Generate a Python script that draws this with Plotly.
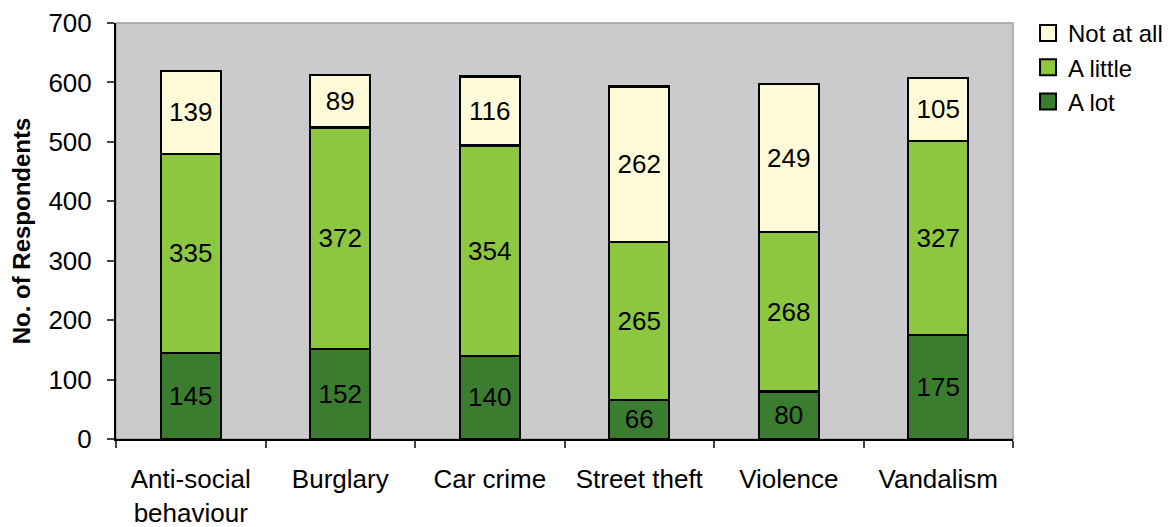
import plotly.graph_objects as go

categories = ["Anti-social<br>behaviour", "Burglary", "Car crime", "Street theft", "Violence", "Vandalism"]
a_lot = [145, 152, 140, 66, 80, 175]
a_little = [335, 372, 354, 265, 268, 327]
not_at_all = [139, 89, 116, 262, 249, 105]

series = [
    ("A lot", a_lot, "#3B7D2F"),
    ("A little", a_little, "#8DC63F"),
    ("Not at all", not_at_all, "#FEFAD8"),
]

FONT = "Liberation Sans, Arial, sans-serif"

fig = go.Figure()
for name, vals, color in series:
    fig.add_trace(go.Bar(
        x=categories, y=vals, name=name, showlegend=False,
        marker=dict(color=color, line=dict(color="black", width=2.2)),
        text=[str(v) for v in vals], textposition="inside",
        insidetextanchor="middle",
        textfont=dict(family=FONT, size=26, color="black"),
        constraintext="none",
    ))
# legend entries with larger square swatches
for name, vals, color in series:
    fig.add_trace(go.Scatter(
        x=[None], y=[None], mode="markers", name=name,
        marker=dict(symbol="square", size=19, color=color, line=dict(color="black", width=2)),
    ))

fig.update_layout(
    barmode="stack", bargap=0.6,
    width=1173, height=527,
    margin=dict(l=108, r=168, t=15, b=96),
    plot_bgcolor="#CBCBCB", paper_bgcolor="white",
    font=dict(family=FONT, size=26, color="black"),
    legend=dict(xref="container", yref="container", x=0.8696, y=0.9943,
                xanchor="left", yanchor="top",
                traceorder="reversed", font=dict(size=24),
                itemwidth=30, tracegroupgap=0),
    uniformtext=dict(minsize=26, mode="show"),
    shapes=[dict(type="rect", xref="paper", yref="paper", x0=0, x1=1, y0=0, y1=1,
                 line=dict(color="#A0A0A0", width=1.5), layer="below")],
)
fig.update_yaxes(range=[0, 700], dtick=100, ticks="outside", ticklen=7, tickwidth=2,
                 showline=True, linecolor="black", linewidth=2, showgrid=False,
                 ticklabelstandoff=10,
                 title=dict(text="<b>No. of Respondents</b>", font=dict(size=24), standoff=12),
                 tickfont=dict(size=26), zeroline=False, automargin=False)
fig.update_xaxes(tickson="boundaries", ticks="outside", ticklen=7, tickwidth=2,
                 showline=True, linecolor="black", linewidth=2, showgrid=False,
                 ticklabelstandoff=16,
                 tickfont=dict(size=26), automargin=False)

fig.write_html("out.html")
